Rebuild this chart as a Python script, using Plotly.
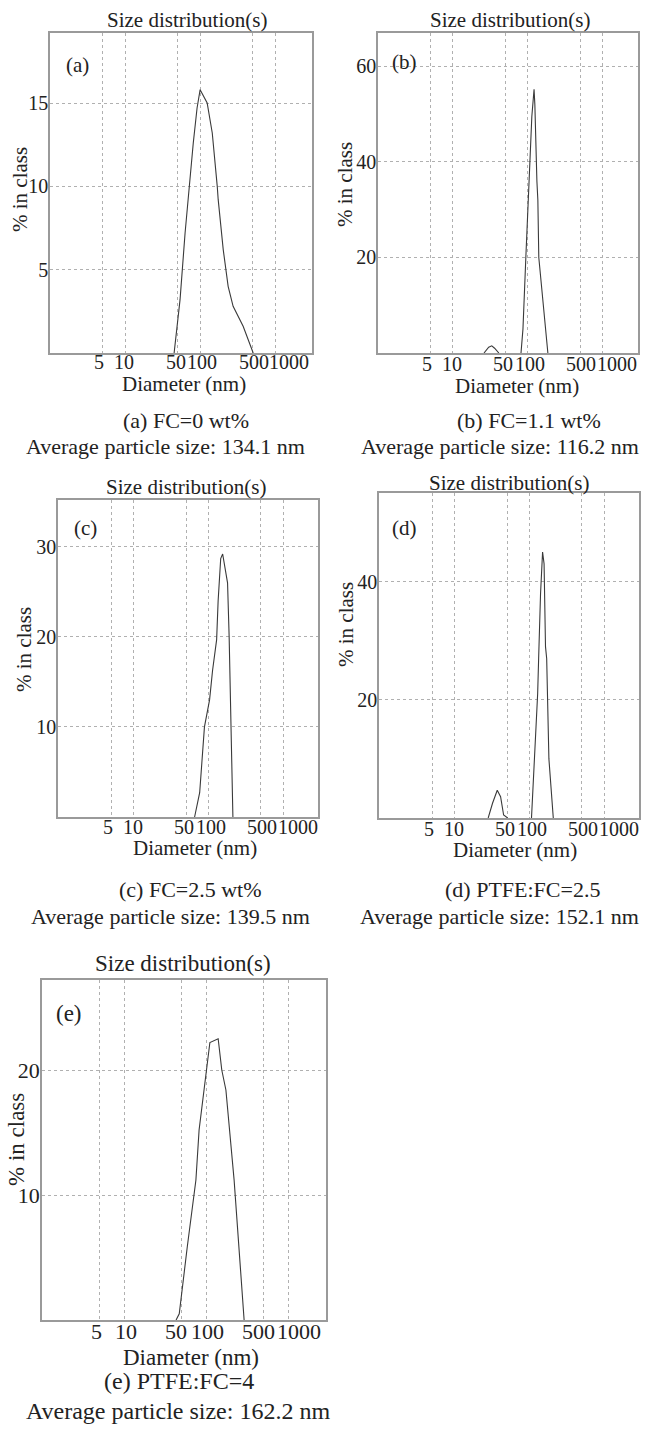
import math
import plotly.graph_objects as go

# ---------------- data ----------------
x_tick_vals = [5, 10, 50, 100, 500, 1000]
x_tick_text = ["5", "10", "50", "100", "500", "1000"]

a_diam = [45, 54, 63, 69, 81, 91, 100, 124, 145, 169, 174, 203, 236, 275, 374, 509]
a_pct = [0, 3.2, 7.2, 9.3, 12.6, 14.7, 15.8, 15.0, 13.2, 10.0, 9.2, 6.2, 4.0, 2.8, 1.6, 0]

# None marks the gap between the two populations (line lies on the axis there)
b_diam = [26, 30, 33, 36, 41, None, 81, 86, 94, 106, 113, 121, 124, 132, 136, 140, 163, 185]
b_pct = [0, 1.2, 1.5, 1.0, 0, None, 0, 5, 20, 40, 49.5, 55.2, 52, 36, 32, 20, 9.5, 0]

c_diam = [65, 76, 88, 103, 113, 128, 134, 145, 154, 179, 188, 191, 197, 207, 211]
c_pct = [0, 2.7, 10, 13, 16.3, 19.7, 24, 28.7, 29.2, 26, 20, 17.4, 10, 3.8, 0]

d_diam = [28, 32, 37, 41, 45, 51, None, 106, 117, 128, 132, 140, 149, 156, 163, 169, 181, 207]
d_pct = [0, 2.5, 4.7, 3.6, 0.5, 0, None, 0, 10, 21, 27, 38, 45, 43, 29, 27, 10, 0]

e_diam = [43, 47, 59, 75, 82, 101, 111, 140, 155, 174, 219, 290]
e_pct = [0, 0.5, 5.9, 11.2, 15.2, 20, 22.2, 22.5, 20, 18.4, 11.2, 0]

panel_letters = ["(a)", "(b)", "(c)", "(d)", "(e)"]
captions = ["(a) FC=0 wt%", "(b) FC=1.1 wt%", "(c) FC=2.5 wt%",
            "(d) PTFE:FC=2.5", "(e) PTFE:FC=4"]
avg_sizes = ["134.1", "116.2", "139.5", "152.1", "162.2"]

y_ranges = [[0, 19.2], [0, 67], [0, 35.2], [0, 55], [0, 27.2]]
y_ticks = [[5, 10, 15], [20, 40, 60], [10, 20, 30], [20, 40], [10, 20]]

# ---------------- layout helpers ----------------
W, H = 652, 1429
FONT = "Liberation Serif"
TXT = "#222222"


def fx(px):
    return px / W


def fy(py):
    return 1 - py / H


series = [(a_diam, a_pct), (b_diam, b_pct), (c_diam, c_pct), (d_diam, d_pct), (e_diam, e_pct)]

# plot boxes in pixels: (left, right, top, bottom)
boxes = [(50, 312, 33, 353), (378, 638, 33, 353), (58, 318, 500, 817),
         (379, 639, 493, 818), (42, 326, 980, 1320)]
x_ranges = [[0, 3.49], [0, 3.47], [-0.01, 3.46], [-0.01, 3.46], [0, 3.46]]

# text positions (pixels)
title_pos = [(187, 20), (510, 20), (186, 487), (509, 483), (183, 963)]
letter_pos = [(77, 65), (404, 62), (86, 528), (404, 528), (69, 1013)]
ylab_pos = [(20, 190), (345, 185), (24, 650), (346, 625), (16, 1140)]
xtick_y = [362, 364, 827, 829, 1331]
xlab_pos = [(184, 384), (517, 386), (195, 848), (515, 850), (191, 1357)]
cap1_pos = [(186, 420), (529, 420), (191, 889), (522, 889), (179, 1381)]
cap2_pos = [(166, 446), (500, 446), (170, 916), (499, 916), (178, 1411)]

# small horizontal nudges of the crowded x tick labels (pixels)
tick_shift_small = [-3, -1, -2, 2, 1, 14]
tick_shift_big = [-3, 2, -5, 1, -5, 11]

fig = go.Figure()
layout = dict(
    width=W, height=H,
    margin=dict(l=0, r=0, t=0, b=0),
    paper_bgcolor="white", plot_bgcolor="white",
    showlegend=False,
    font=dict(family=FONT, color=TXT),
)
annotations = []


def ann(text, pos, size, angle=0):
    annotations.append(dict(
        text=text, x=fx(pos[0]), y=fy(pos[1]), xref="paper", yref="paper",
        xanchor="center", yanchor="middle", showarrow=False, textangle=angle,
        borderpad=0, font=dict(family=FONT, size=size, color=TXT),
    ))


for i in range(5):
    n = "" if i == 0 else str(i + 1)
    big = (i == 4)
    tick_fs = 22 if big else 20
    lab_fs = 23 if big else 21
    cap_fs = 24 if big else 22
    d, v = series[i]
    fig.add_trace(go.Scatter(
        x=d, y=v, mode="lines", connectgaps=False,
        line=dict(color="#3a3a3a", width=1.1),
        xaxis="x" + n, yaxis="y" + n, hoverinfo="skip",
    ))
    l, r, t, b = boxes[i]
    layout["xaxis" + n] = dict(
        type="log", range=x_ranges[i], domain=[fx(l), fx(r)], anchor="y" + n,
        tickmode="array", tickvals=x_tick_vals, showticklabels=False,
        showgrid=True, gridcolor="#b0b0b0", griddash="dot", gridwidth=1,
        showline=True, mirror=True, linecolor="#9a9a9a", linewidth=1.5,
        ticks="", zeroline=False,
    )
    layout["yaxis" + n] = dict(
        range=y_ranges[i], domain=[fy(b), fy(t)], anchor="x" + n,
        tickmode="array", tickvals=y_ticks[i], ticklabelstandoff=-4,
        showgrid=True, gridcolor="#b0b0b0", griddash="dot", gridwidth=1,
        showline=True, mirror=True, linecolor="#9a9a9a", linewidth=1.5,
        ticks="", zeroline=False,
        tickfont=dict(family=FONT, size=tick_fs, color=TXT),
    )

    # x tick labels, positioned through the log x axis
    shifts = tick_shift_big if big else tick_shift_small
    for val, txt, sh in zip(x_tick_vals, x_tick_text, shifts):
        annotations.append(dict(
            text=txt, x=math.log10(val), xref="x" + n,
            y=fy(xtick_y[i]), yref="paper", xshift=sh,
            xanchor="center", yanchor="middle", showarrow=False,
            borderpad=0, font=dict(family=FONT, size=tick_fs, color=TXT),
        ))

    ann("Size distribution(s)", title_pos[i], lab_fs)
    ann(panel_letters[i], letter_pos[i], lab_fs)
    ann("% in class", ylab_pos[i], lab_fs, -90)
    ann("Diameter (nm)", xlab_pos[i], lab_fs)
    ann(captions[i], cap1_pos[i], cap_fs)
    ann("Average particle size: " + avg_sizes[i] + " nm", cap2_pos[i], cap_fs)

layout["annotations"] = annotations
fig.update_layout(**layout)
fig.write_html("out.html", config={"displayModeBar": False},
               post_script="document.body.style.margin='0';")
